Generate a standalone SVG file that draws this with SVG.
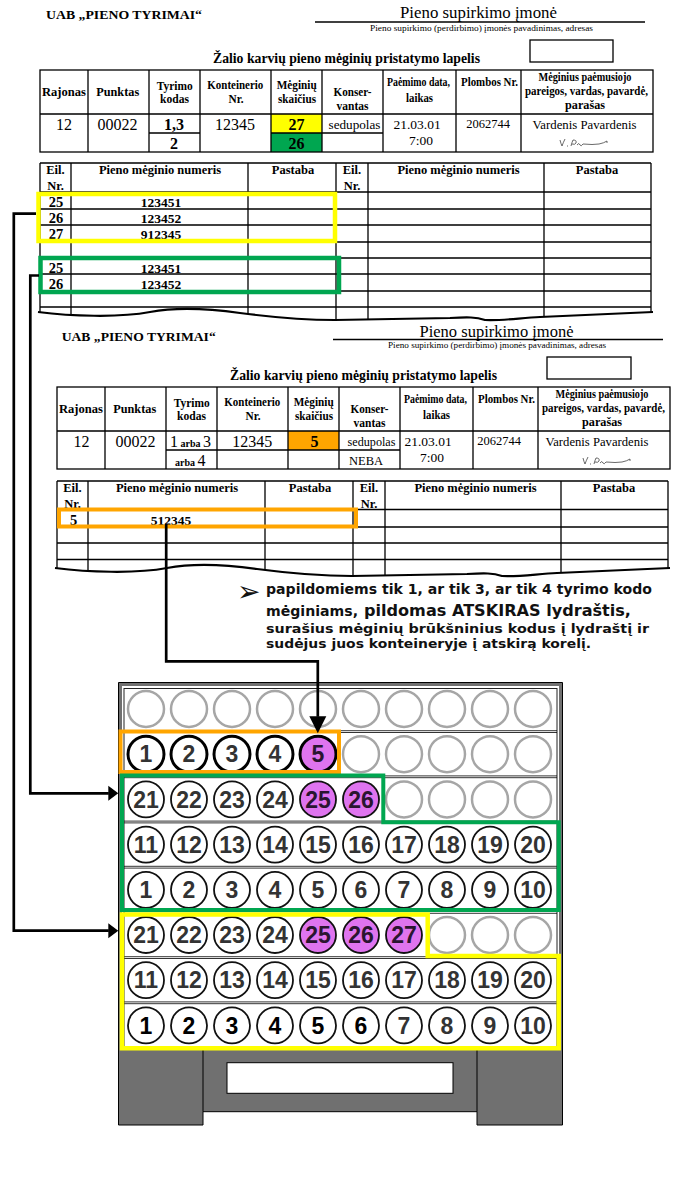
<svg xmlns="http://www.w3.org/2000/svg" width="680" height="1200" viewBox="0 0 680 1200">
<defs>
<style>
.sf{font-family:"Liberation Serif","Times New Roman",serif;fill:#000}
.b{font-weight:bold}
.m{text-anchor:middle}
.hd{font-family:"Liberation Serif","Times New Roman",serif;font-weight:bold;font-size:12.5px;text-anchor:middle;fill:#000}
.dv{font-family:"Liberation Serif","Times New Roman",serif;font-size:16px;text-anchor:middle;fill:#000}
.tn{font-family:"Liberation Serif","Times New Roman",serif;font-weight:bold;font-size:14.5px;text-anchor:middle;fill:#000}
.tc{font-family:"Liberation Serif","Times New Roman",serif;font-weight:bold;font-size:13.5px;text-anchor:middle;fill:#000}
.grid{stroke:#000;stroke-width:1.3;fill:none}
.wave{stroke:#000;stroke-width:2.2;fill:none}
.ann{font-family:"DejaVu Sans",Verdana,sans-serif;font-weight:bold;fill:#111}
.cup{fill:#fff;stroke:#111;stroke-width:1.8}
.cup1{fill:#fff;stroke:#000;stroke-width:3}
.cupe{fill:#fff;stroke:#a6a6a6;stroke-width:2.5}
.pp{fill:#df74ef}
.num{font-family:"Liberation Sans",Arial,sans-serif;font-weight:bold;font-size:23px;text-anchor:middle;fill:#333}
.nump{fill:#2a1530}
.conn{fill:none;stroke:#000;stroke-width:2.7}
.sep{stroke:#000;stroke-width:0.8}
.sig{fill:none;stroke:#444;stroke-width:0.8}
</style>
<marker id="arrR" markerUnits="userSpaceOnUse" markerWidth="11" markerHeight="16" refX="0.5" refY="7.5" orient="auto" overflow="visible"><path d="M0,0 L10,7.5 L0,15 Z" fill="#000"/></marker>
<marker id="arrD" markerUnits="userSpaceOnUse" markerWidth="18" markerHeight="18" refX="0.5" refY="8.5" orient="auto" overflow="visible"><path d="M0,0 L17,8.5 L0,17 Z" fill="#000"/></marker>
</defs>
<rect width="680" height="1200" fill="#fff"/>

<!-- FORM 1 -->
<g id="form1">
<text class="sf b" x="46" y="18.5" font-size="13.5" textLength="156" lengthAdjust="spacingAndGlyphs">UAB „PIENO TYRIMAI“</text>
<text class="sf m" x="478.5" y="17.5" font-size="16.5" textLength="157" lengthAdjust="spacingAndGlyphs">Pieno supirkimo įmonė</text>
<line class="grid" x1="315" y1="22" x2="645" y2="22"/>
<text class="sf m" x="481.5" y="30.5" font-size="8.5" textLength="223" lengthAdjust="spacingAndGlyphs">Pieno supirkimo (perdirbimo) įmonės pavadinimas, adresas</text>
<text class="sf b m" x="346.5" y="63" font-size="14" textLength="267" lengthAdjust="spacingAndGlyphs">Žalio karvių pieno mėginių pristatymo lapelis</text>
<rect class="grid" x="530" y="40" width="83" height="22"/>
<rect x="271" y="114" width="51" height="19" fill="#ffff00"/>
<rect x="271" y="133" width="51" height="19" fill="#00a650"/>
<rect class="grid" x="40" y="70" width="613" height="82"/>
<path class="grid" d="M88,70V152M149,70V152M200,70V152M271,70V152M322,70V152M383,70V152M456,70V152M521,70V152M40,114H653M149,133H200M271,133H383"/>
<text class="hd" x="64" y="95.7" textLength="44" lengthAdjust="spacingAndGlyphs">Rajonas</text>
<text class="hd" x="117.7" y="95.7" textLength="43" lengthAdjust="spacingAndGlyphs">Punktas</text>
<text class="hd" x="174.7" y="89.5" textLength="36" lengthAdjust="spacingAndGlyphs">Tyrimo</text>
<text class="hd" x="174.5" y="102.5" textLength="29" lengthAdjust="spacingAndGlyphs">kodas</text>
<text class="hd" x="235.3" y="89" textLength="56" lengthAdjust="spacingAndGlyphs">Konteinerio</text>
<text class="hd" x="236" y="102.5" textLength="15" lengthAdjust="spacingAndGlyphs">Nr.</text>
<text class="hd" x="296.7" y="89" textLength="40" lengthAdjust="spacingAndGlyphs">Mėginių</text>
<text class="hd" x="297" y="102.5" textLength="38" lengthAdjust="spacingAndGlyphs">skaičius</text>
<text class="hd" x="352.5" y="95.5" textLength="38" lengthAdjust="spacingAndGlyphs">Konser-</text>
<text class="hd" x="352.5" y="109.5" textLength="32" lengthAdjust="spacingAndGlyphs">vantas</text>
<text class="hd" x="418.5" y="85.5" textLength="63" lengthAdjust="spacingAndGlyphs">Paėmimo data,</text>
<text class="hd" x="419.5" y="101.5" textLength="27" lengthAdjust="spacingAndGlyphs">laikas</text>
<text class="hd" x="489.5" y="85.5" textLength="57" lengthAdjust="spacingAndGlyphs">Plombos Nr.</text>
<text class="hd" x="585" y="80.5" textLength="93" lengthAdjust="spacingAndGlyphs">Mėginius paėmusiojo</text>
<text class="hd" x="586.5" y="95" textLength="123" lengthAdjust="spacingAndGlyphs">pareigos, vardas, pavardė,</text>
<text class="hd" x="585" y="109" textLength="40" lengthAdjust="spacingAndGlyphs">parašas</text>
<text class="dv" x="64" y="130">12</text>
<text class="dv" x="117.5" y="130">00022</text>
<text class="dv b" x="174" y="130">1,3</text>
<text class="dv b" x="174" y="148.5">2</text>
<text class="dv" x="235" y="130">12345</text>
<text class="dv b" x="296.5" y="130">27</text>
<text class="dv b" x="296.5" y="148.5">26</text>
<text class="sf m" x="354.5" y="128.5" font-size="12.5" textLength="52" lengthAdjust="spacingAndGlyphs">sedupolas</text>
<text class="sf m" x="417" y="129" font-size="13.5">21.03.01</text>
<text class="sf m" x="421" y="144.5" font-size="13.5">7:00</text>
<text class="sf m" x="488" y="127.5" font-size="12.5">2062744</text>
<text class="sf m" x="584.5" y="129" font-size="13" textLength="104" lengthAdjust="spacingAndGlyphs">Vardenis Pavardenis</text>
<path class="sig" d="M560,140 q1,4 2,6 q1,-3 3,-7 M567,146 h1 M571,146 q1,-4 2,-6 q4,0 3,3 q-1,2 -4,1 M577,145 q2,-3 3,0 q1,2 3,-1 q10,1 16,0 q5,-1 8,-3 l0,2"/>
</g>

<!-- TABLE 2 -->
<g id="table2">
<path class="grid" d="M40,163H651M40,192H651M40,209H651M40,225H651M40,242H651M40,258H651M40,274H651M40,291H651M40,307H651M40,163V312M71,163V315M248,163V314M336,163V320M368,163V320M544,163V317M651,163V312"/>
<path class="wave" d="M38,312 C70,316 118,318 150,312 C176,307 212,309 240,313 C278,318 306,320 335,320 L450,318 C468,317 476,317 485,320 C500,321 520,318 540,317 C590,315 625,313 653,312"/>
<text class="hd" x="55.5" y="174">Eil.</text>
<text class="hd" x="55.5" y="189.5">Nr.</text>
<text class="hd" x="160" y="174">Pieno mėginio numeris</text>
<text class="hd" x="293" y="174">Pastaba</text>
<text class="hd" x="352" y="174">Eil.</text>
<text class="hd" x="352" y="189.5">Nr.</text>
<text class="hd" x="458.5" y="174">Pieno mėginio numeris</text>
<text class="hd" x="597" y="174">Pastaba</text>
<text class="tn" x="56" y="206.5">25</text>
<text class="tc" x="161" y="206.5">123451</text>
<text class="tn" x="56" y="222.5">26</text>
<text class="tc" x="161" y="222.5">123452</text>
<text class="tn" x="56" y="239">27</text>
<text class="tc" x="161" y="239">912345</text>
<text class="tn" x="56" y="272.5">25</text>
<text class="tc" x="161" y="272.5">123451</text>
<text class="tn" x="56" y="288.5">26</text>
<text class="tc" x="161" y="288.5">123452</text>
<rect x="38.5" y="194" width="296.5" height="47" fill="none" stroke="#ffff00" stroke-width="4.5"/>
<rect x="40.5" y="258" width="298.5" height="34" fill="none" stroke="#00a650" stroke-width="4.5"/>
</g>

<!-- FORM 2 -->
<g id="form2" transform="translate(17,317)">
<text class="sf b" x="44.7" y="23.5" font-size="13.5" textLength="154" lengthAdjust="spacingAndGlyphs">UAB „PIENO TYRIMAI“</text>
<text class="sf m" x="479.5" y="19.5" font-size="16.5" textLength="154" lengthAdjust="spacingAndGlyphs">Pieno supirkimo įmonė</text>
<line class="grid" x1="316" y1="22.5" x2="646" y2="22.5"/>
<text class="sf m" x="480" y="31" font-size="8.5" textLength="218" lengthAdjust="spacingAndGlyphs">Pieno supirkimo (perdirbimo) įmonės pavadinimas, adresas</text>
<text class="sf b m" x="346.5" y="63" font-size="14" textLength="267" lengthAdjust="spacingAndGlyphs">Žalio karvių pieno mėginių pristatymo lapelis</text>
<rect class="grid" x="530" y="40" width="84" height="22"/>
<rect x="271" y="114" width="51" height="19" fill="#ffa500"/>
<rect class="grid" x="40" y="70" width="613" height="82"/>
<path class="grid" d="M88,70V152M149,70V152M200,70V152M271,70V152M322,70V152M383,70V152M456,70V152M521,70V152M40,114H653M149,133H383"/>
<text class="hd" x="64" y="95.7" textLength="44" lengthAdjust="spacingAndGlyphs">Rajonas</text>
<text class="hd" x="117.7" y="95.7" textLength="43" lengthAdjust="spacingAndGlyphs">Punktas</text>
<text class="hd" x="174.7" y="89.5" textLength="36" lengthAdjust="spacingAndGlyphs">Tyrimo</text>
<text class="hd" x="174.5" y="102.5" textLength="29" lengthAdjust="spacingAndGlyphs">kodas</text>
<text class="hd" x="235.3" y="89" textLength="56" lengthAdjust="spacingAndGlyphs">Konteinerio</text>
<text class="hd" x="236" y="102.5" textLength="15" lengthAdjust="spacingAndGlyphs">Nr.</text>
<text class="hd" x="296.7" y="89" textLength="40" lengthAdjust="spacingAndGlyphs">Mėginių</text>
<text class="hd" x="297" y="102.5" textLength="38" lengthAdjust="spacingAndGlyphs">skaičius</text>
<text class="hd" x="352.5" y="95.5" textLength="38" lengthAdjust="spacingAndGlyphs">Konser-</text>
<text class="hd" x="352.5" y="109.5" textLength="32" lengthAdjust="spacingAndGlyphs">vantas</text>
<text class="hd" x="418.5" y="85.5" textLength="63" lengthAdjust="spacingAndGlyphs">Paėmimo data,</text>
<text class="hd" x="419.5" y="101.5" textLength="27" lengthAdjust="spacingAndGlyphs">laikas</text>
<text class="hd" x="489.5" y="85.5" textLength="57" lengthAdjust="spacingAndGlyphs">Plombos Nr.</text>
<text class="hd" x="585" y="80.5" textLength="93" lengthAdjust="spacingAndGlyphs">Mėginius paėmusiojo</text>
<text class="hd" x="586.5" y="95" textLength="123" lengthAdjust="spacingAndGlyphs">pareigos, vardas, pavardė,</text>
<text class="hd" x="585" y="109" textLength="40" lengthAdjust="spacingAndGlyphs">parašas</text>
<text class="dv" x="64.5" y="130">12</text>
<text class="dv" x="118.5" y="130">00022</text>
<text class="sf" x="153" y="130" font-size="16">1<tspan font-size="10" font-weight="bold"> arba </tspan>3</text>
<text class="sf" x="158" y="148.5" font-size="16"><tspan font-size="10" font-weight="bold">arba </tspan>4</text>
<text class="dv" x="235.3" y="130">12345</text>
<text class="dv b" x="297.5" y="130">5</text>
<text class="sf m" x="354.5" y="128.5" font-size="12.5" textLength="48" lengthAdjust="spacingAndGlyphs">sedupolas</text>
<text class="sf m" x="349" y="148" font-size="12.5">NEBA</text>
<text class="sf m" x="411" y="129" font-size="13.5">21.03.01</text>
<text class="sf m" x="415" y="144.5" font-size="13.5">7:00</text>
<text class="sf m" x="482" y="127.5" font-size="12.5">2062744</text>
<text class="sf m" x="580" y="129" font-size="13" textLength="103" lengthAdjust="spacingAndGlyphs">Vardenis Pavardenis</text>
<path class="sig" transform="translate(6,1)" d="M560,140 q1,4 2,6 q1,-3 3,-7 M567,146 h1 M571,146 q1,-4 2,-6 q4,0 3,3 q-1,2 -4,1 M577,145 q2,-3 3,0 q1,2 3,-1 q10,1 16,0 q5,-1 8,-3 l0,2"/>
</g>

<!-- TABLE 3 -->
<g id="table3" transform="translate(17,318)">
<path class="grid" d="M40,163H651M40,191.5H651M40,209H651M40,225H651M40,241.5H651M40,163V250M71,163V253M248,163V252M336,163V258M368,163V258M544,163V255M651,163V250"/>
<path class="wave" d="M38,250 C70,254 118,256 150,250 C176,245 212,247 240,251 C278,256 306,258 335,258 L450,256 C468,255 476,255 485,258 C500,259 520,256 540,255 C590,253 625,251 653,250"/>
<text class="hd" x="55.5" y="174">Eil.</text>
<text class="hd" x="55.5" y="189.5">Nr.</text>
<text class="hd" x="160" y="174">Pieno mėginio numeris</text>
<text class="hd" x="293" y="174">Pastaba</text>
<text class="hd" x="352" y="174">Eil.</text>
<text class="hd" x="352" y="189.5">Nr.</text>
<text class="hd" x="458.5" y="174">Pieno mėginio numeris</text>
<text class="hd" x="597" y="174">Pastaba</text>
<text class="tn" x="56.5" y="206.5">5</text>
<text class="tc" x="154" y="206.5">512345</text>
<rect x="42" y="191.5" width="297" height="17" fill="none" stroke="#ffa500" stroke-width="4"/>
</g>

<!-- ANNOTATION -->
<g id="note">
<text x="237" y="601" font-family="DejaVu Sans,sans-serif" font-size="28" fill="#111">➢</text>
<text class="ann" x="266" y="594" font-size="13.5" textLength="386" lengthAdjust="spacingAndGlyphs">papildomiems tik 1, ar tik 3, ar tik 4 tyrimo kodo</text>
<text class="ann" x="266" y="615.7" font-size="13.5" textLength="92" lengthAdjust="spacingAndGlyphs">mėginiams,</text>
<text class="ann" x="364" y="615.7" font-size="15" textLength="267" lengthAdjust="spacingAndGlyphs">pildomas ATSKIRAS lydraštis,</text>
<text class="ann" x="266" y="633.3" font-size="12.5" textLength="383" lengthAdjust="spacingAndGlyphs">surašius mėginių brūkšninius kodus į lydraštį ir</text>
<text class="ann" x="266" y="648.3" font-size="12.5" textLength="325" lengthAdjust="spacingAndGlyphs">sudėjus juos konteineryje į atskirą korelį.</text>
</g>

<!-- CRATE -->
<g id="crate">
<path d="M118.5,682.5 H562.5 V1125 H477 V1111.7 H203 V1125 H118.5 Z" fill="#707070" stroke="#000" stroke-width="1"/>
<path d="M203,1049 V1111.7 M477,1049 V1111.7" stroke="#000" stroke-width="1"/>
<rect x="122" y="686" width="437" height="363" fill="#fff"/>
<rect x="124" y="688.5" width="433" height="360" fill="none" stroke="#222" stroke-width="1"/>
<rect x="227" y="1062.7" width="226" height="30.6" fill="#fff" stroke="#000" stroke-width="1"/>
<g id="separators">
<path class="sep" d="M124,730.7H557M124,732.5H557M124,775.9H557M124,777.7H557M124,821.1H557M124,822.9H557M124,866.3H557M124,868.1H557M124,911.5H557M124,913.3H557M124,956.7H557M124,958.5H557M124,1001.9H557M124,1003.7H557"/>
</g>
<g id="row0">
<circle class="cupe" cx="146" cy="709" r="18"/><circle class="cupe" cx="189" cy="709" r="18"/><circle class="cupe" cx="232" cy="709" r="18"/><circle class="cupe" cx="275" cy="709" r="18"/><circle class="cupe" cx="318" cy="709" r="18"/><circle class="cupe" cx="361" cy="709" r="18"/><circle class="cupe" cx="404" cy="709" r="18"/><circle class="cupe" cx="447" cy="709" r="18"/><circle class="cupe" cx="490" cy="709" r="18"/><circle class="cupe" cx="533" cy="709" r="18"/>
</g>
<g id="row1">
<circle class="cup1" cx="146" cy="754.2" r="18"/><text class="num" x="146" y="762.4">1</text>
<circle class="cup1" cx="189" cy="754.2" r="18"/><text class="num" x="189" y="762.4">2</text>
<circle class="cup1" cx="232" cy="754.2" r="18"/><text class="num" x="232" y="762.4">3</text>
<circle class="cup1" cx="275" cy="754.2" r="18"/><text class="num" x="275" y="762.4">4</text>
<circle class="cup1 pp" cx="318" cy="754.2" r="18"/><text class="num nump" x="318" y="762.4">5</text>
<circle class="cupe" cx="361" cy="754.2" r="18"/><circle class="cupe" cx="404" cy="754.2" r="18"/><circle class="cupe" cx="447" cy="754.2" r="18"/><circle class="cupe" cx="490" cy="754.2" r="18"/><circle class="cupe" cx="533" cy="754.2" r="18"/>
</g>
<g id="row2">
<circle class="cup" cx="146" cy="799.4" r="18"/><text class="num" x="146" y="807.6">21</text>
<circle class="cup" cx="189" cy="799.4" r="18"/><text class="num" x="189" y="807.6">22</text>
<circle class="cup" cx="232" cy="799.4" r="18"/><text class="num" x="232" y="807.6">23</text>
<circle class="cup" cx="275" cy="799.4" r="18"/><text class="num" x="275" y="807.6">24</text>
<circle class="cup pp" cx="318" cy="799.4" r="18"/><text class="num nump" x="318" y="807.6">25</text>
<circle class="cup pp" cx="361" cy="799.4" r="18"/><text class="num nump" x="361" y="807.6">26</text>
<circle class="cupe" cx="404" cy="799.4" r="18"/><circle class="cupe" cx="447" cy="799.4" r="18"/><circle class="cupe" cx="490" cy="799.4" r="18"/><circle class="cupe" cx="533" cy="799.4" r="18"/>
</g>
<g id="row3">
<circle class="cup" cx="146" cy="844.6" r="18"/><text class="num" x="146" y="852.8">11</text>
<circle class="cup" cx="189" cy="844.6" r="18"/><text class="num" x="189" y="852.8">12</text>
<circle class="cup" cx="232" cy="844.6" r="18"/><text class="num" x="232" y="852.8">13</text>
<circle class="cup" cx="275" cy="844.6" r="18"/><text class="num" x="275" y="852.8">14</text>
<circle class="cup" cx="318" cy="844.6" r="18"/><text class="num" x="318" y="852.8">15</text>
<circle class="cup" cx="361" cy="844.6" r="18"/><text class="num" x="361" y="852.8">16</text>
<circle class="cup" cx="404" cy="844.6" r="18"/><text class="num" x="404" y="852.8">17</text>
<circle class="cup" cx="447" cy="844.6" r="18"/><text class="num" x="447" y="852.8">18</text>
<circle class="cup" cx="490" cy="844.6" r="18"/><text class="num" x="490" y="852.8">19</text>
<circle class="cup" cx="533" cy="844.6" r="18"/><text class="num" x="533" y="852.8">20</text>
</g>
<g id="row4">
<circle class="cup" cx="146" cy="889.8" r="18"/><text class="num" x="146" y="898">1</text>
<circle class="cup" cx="189" cy="889.8" r="18"/><text class="num" x="189" y="898">2</text>
<circle class="cup" cx="232" cy="889.8" r="18"/><text class="num" x="232" y="898">3</text>
<circle class="cup" cx="275" cy="889.8" r="18"/><text class="num" x="275" y="898">4</text>
<circle class="cup" cx="318" cy="889.8" r="18"/><text class="num" x="318" y="898">5</text>
<circle class="cup" cx="361" cy="889.8" r="18"/><text class="num" x="361" y="898">6</text>
<circle class="cup" cx="404" cy="889.8" r="18"/><text class="num" x="404" y="898">7</text>
<circle class="cup" cx="447" cy="889.8" r="18"/><text class="num" x="447" y="898">8</text>
<circle class="cup" cx="490" cy="889.8" r="18"/><text class="num" x="490" y="898">9</text>
<circle class="cup" cx="533" cy="889.8" r="18"/><text class="num" x="533" y="898">10</text>
</g>
<g id="row5">
<circle class="cup" cx="146" cy="935" r="18"/><text class="num" x="146" y="943.2">21</text>
<circle class="cup" cx="189" cy="935" r="18"/><text class="num" x="189" y="943.2">22</text>
<circle class="cup" cx="232" cy="935" r="18"/><text class="num" x="232" y="943.2">23</text>
<circle class="cup" cx="275" cy="935" r="18"/><text class="num" x="275" y="943.2">24</text>
<circle class="cup pp" cx="318" cy="935" r="18"/><text class="num nump" x="318" y="943.2">25</text>
<circle class="cup pp" cx="361" cy="935" r="18"/><text class="num nump" x="361" y="943.2">26</text>
<circle class="cup pp" cx="404" cy="935" r="18"/><text class="num nump" x="404" y="943.2">27</text>
<circle class="cupe" cx="447" cy="935" r="18"/><circle class="cupe" cx="490" cy="935" r="18"/><circle class="cupe" cx="533" cy="935" r="18"/>
</g>
<g id="row6">
<circle class="cup" cx="146" cy="980.2" r="18"/><text class="num" x="146" y="988.4">11</text>
<circle class="cup" cx="189" cy="980.2" r="18"/><text class="num" x="189" y="988.4">12</text>
<circle class="cup" cx="232" cy="980.2" r="18"/><text class="num" x="232" y="988.4">13</text>
<circle class="cup" cx="275" cy="980.2" r="18"/><text class="num" x="275" y="988.4">14</text>
<circle class="cup" cx="318" cy="980.2" r="18"/><text class="num" x="318" y="988.4">15</text>
<circle class="cup" cx="361" cy="980.2" r="18"/><text class="num" x="361" y="988.4">16</text>
<circle class="cup" cx="404" cy="980.2" r="18"/><text class="num" x="404" y="988.4">17</text>
<circle class="cup" cx="447" cy="980.2" r="18"/><text class="num" x="447" y="988.4">18</text>
<circle class="cup" cx="490" cy="980.2" r="18"/><text class="num" x="490" y="988.4">19</text>
<circle class="cup" cx="533" cy="980.2" r="18"/><text class="num" x="533" y="988.4">20</text>
</g>
<g id="row7">
<circle class="cup" cx="146" cy="1025.4" r="18"/><text class="num" x="146" y="1033.6" style="fill:#000">1</text>
<circle class="cup" cx="189" cy="1025.4" r="18"/><text class="num" x="189" y="1033.6" style="fill:#000">2</text>
<circle class="cup" cx="232" cy="1025.4" r="18"/><text class="num" x="232" y="1033.6" style="fill:#000">3</text>
<circle class="cup" cx="275" cy="1025.4" r="18"/><text class="num" x="275" y="1033.6" style="fill:#000">4</text>
<circle class="cup" cx="318" cy="1025.4" r="18"/><text class="num" x="318" y="1033.6" style="fill:#000">5</text>
<circle class="cup" cx="361" cy="1025.4" r="18"/><text class="num" x="361" y="1033.6" style="fill:#000">6</text>
<circle class="cup" cx="404" cy="1025.4" r="18"/><text class="num" x="404" y="1033.6">7</text>
<circle class="cup" cx="447" cy="1025.4" r="18"/><text class="num" x="447" y="1033.6">8</text>
<circle class="cup" cx="490" cy="1025.4" r="18"/><text class="num" x="490" y="1033.6">9</text>
<circle class="cup" cx="533" cy="1025.4" r="18"/><text class="num" x="533" y="1033.6">10</text>
</g>
<g id="groups">
<rect x="120.5" y="731.5" width="218.5" height="40.5" fill="none" stroke="#ffa500" stroke-width="4"/>
<path d="M122,775.5 H383.3 V822.3 H558.7 V910 H122 Z" fill="none" stroke="#00a650" stroke-width="4"/>
<path d="M122,914.5 H427.7 V956 H558.7 V1048.3 H122 Z" fill="none" stroke="#ffff00" stroke-width="4.5"/>
</g>
</g>

<!-- CONNECTORS -->
<g id="connectors">
<path class="conn" d="M36,213.7 H13.8 V930.7 H108.8" marker-end="url(#arrR)"/>
<path class="conn" d="M39,275.5 H30.3 V793.3 H108.8" marker-end="url(#arrR)"/>
<path class="conn" d="M166.2,524 V661.3 H317.8 V716.8" marker-end="url(#arrD)"/>
</g>
</svg>
